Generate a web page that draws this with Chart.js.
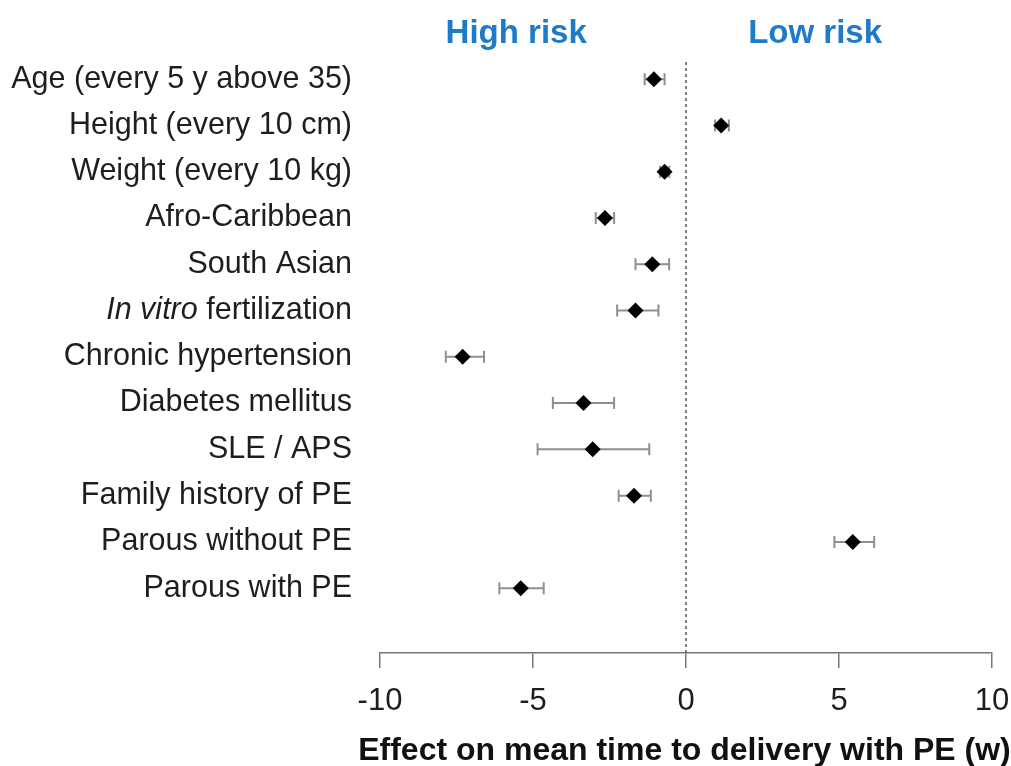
<!DOCTYPE html>
<html>
<head>
<meta charset="utf-8">
<script src="https://cdn.jsdelivr.net/npm/chart.js@4"></script>
<style>
  body { margin: 0; background: #fff; }
  #wrap { width: 1011px; height: 766px; }
</style>
</head>
<body>
<div id="wrap"><canvas id="myChart" width="1011" height="766"></canvas></div>
<script>
let categories = ['Age (every 5 y above 35)', 'Height (every 10 cm)', 'Weight (every 10 kg)', 'Afro-Caribbean',
  'South Asian', 'In vitro fertilization', 'Chronic hypertension', 'Diabetes mellitus', 'SLE / APS',
  'Family history of PE', 'Parous without PE', 'Parous with PE'];

// effect estimate and 95% CI (weeks)
let effect = [-1.05, 1.15, -0.7, -2.65, -1.1, -1.65, -7.3, -3.35, -3.05, -1.7, 5.45, -5.4];
let lower  = [-1.35, 0.95, -0.85, -2.95, -1.65, -2.25, -7.85, -4.35, -4.85, -2.2, 4.85, -6.1];
let upper  = [-0.7, 1.4, -0.55, -2.35, -0.55, -0.9, -6.6, -2.35, -1.2, -1.15, 6.15, -4.65];

let xTicks = [-10, -5, 0, 5, 10];
let italicPart = { 'In vitro fertilization': 'In vitro' };
let xTitle = 'Effect on mean time to delivery with PE (w)';

let FONT = '"Liberation Sans", Arial, sans-serif';

let points = effect.map((v, i) => ({ x: v, y: i }));

let forestPlugin = {
  id: 'forest',
  beforeDatasetsDraw(chart) {
    let ctx = chart.ctx;
    let xs = chart.scales.x, ys = chart.scales.y;
    let area = chart.chartArea;

    // dotted line at 0
    ctx.save();
    ctx.strokeStyle = '#555';
    ctx.lineWidth = 1.5;
    ctx.setLineDash([3, 3]);
    ctx.beginPath();
    ctx.moveTo(xs.getPixelForValue(0), area.top + 6);
    ctx.lineTo(xs.getPixelForValue(0), area.bottom);
    ctx.stroke();
    ctx.restore();

    // confidence intervals
    ctx.save();
    ctx.strokeStyle = '#8f8f8f';
    ctx.lineWidth = 2;
    for (let i = 0; i < effect.length; i++) {
      let y = ys.getPixelForValue(i);
      let x1 = xs.getPixelForValue(lower[i]);
      let x2 = xs.getPixelForValue(upper[i]);
      ctx.beginPath();
      ctx.moveTo(x1, y); ctx.lineTo(x2, y);
      ctx.moveTo(x1, y - 6); ctx.lineTo(x1, y + 6);
      ctx.moveTo(x2, y - 6); ctx.lineTo(x2, y + 6);
      ctx.stroke();
    }
    ctx.restore();
  },
  afterDraw(chart) {
    let ctx = chart.ctx;
    let xs = chart.scales.x, ys = chart.scales.y;
    ctx.save();
    ctx.textBaseline = 'middle';

    // row labels
    ctx.fillStyle = '#1e1e1e';
    ctx.textAlign = 'right';
    let right = chart.chartArea.left - 28;
    categories.forEach((lab, i) => {
      let y = ys.getPixelForValue(i);
      let it = italicPart[lab];
      if (it) {
        let rest = lab.slice(it.length);
        ctx.font = '30.5px ' + FONT;
        ctx.fillText(rest, right, y);
        let w = ctx.measureText(rest).width;
        ctx.font = 'italic 30.5px ' + FONT;
        ctx.fillText(it, right - w, y);
      } else {
        ctx.font = '30.5px ' + FONT;
        ctx.fillText(lab, right, y);
      }
    });

    // headers
    ctx.fillStyle = '#1f7bc8';
    ctx.textAlign = 'center';
    ctx.font = 'bold 33px ' + FONT;
    ctx.fillText('High risk', xs.getPixelForValue(-5.55), 34);
    ctx.fillText('Low risk', xs.getPixelForValue(4.22), 34);

    // axis title (drawn here so it can run past the plot width)
    ctx.fillStyle = '#111';
    ctx.font = 'bold 32px ' + FONT;
    ctx.fillText(xTitle, xs.getPixelForValue(-0.05), 751);
    ctx.restore();
  }
};

let myChart = document.getElementById('myChart').getContext('2d');

let chart = new Chart(myChart, {
  type: 'scatter',
  data: {
    datasets: [{
      data: points,
      pointStyle: 'rectRot',
      pointRadius: 8,
      pointHoverRadius: 8,
      backgroundColor: '#000',
      borderColor: '#000',
      borderWidth: 0
    }]
  },
  options: {
    responsive: false,
    animation: false,
    layout: { padding: { left: 380, right: 19, top: 56, bottom: 0 } },
    plugins: {
      legend: { display: false },
      tooltip: { enabled: false }
    },
    scales: {
      x: {
        type: 'linear',
        min: -10,
        max: 10,
        afterBuildTicks: (s) => { s.ticks = xTicks.map(v => ({ value: v })); },
        afterFit: (s) => { s.height = 113; s.paddingLeft = 0; s.paddingRight = 0; },
        grid: { drawOnChartArea: false, drawTicks: true, tickLength: 15, color: '#777', lineWidth: 1.5 },
        border: { display: true, color: '#777', width: 1.5 },
        ticks: { color: '#1e1e1e', font: { family: FONT, size: 31 }, padding: 15, maxRotation: 0 }
      },
      y: {
        type: 'linear',
        display: false,
        reverse: true,
        min: -0.5,
        max: 12.4
      }
    }
  },
  plugins: [forestPlugin]
});
</script>
</body>
</html>
